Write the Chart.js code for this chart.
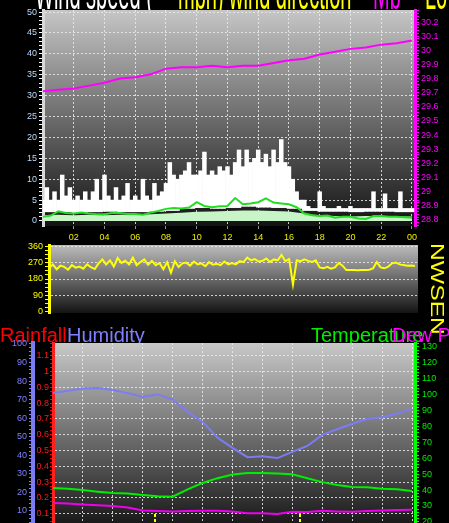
<!DOCTYPE html>
<html>
<head>
<meta charset="utf-8">
<script src="https://cdn.jsdelivr.net/npm/chart.js@4.4.0/dist/chart.umd.min.js"></script>
<style>
  html, body { margin: 0; padding: 0; background: #000; overflow: hidden; }
  body { width: 449px; height: 523px; position: relative; }
  canvas { position: absolute; left: 0; }
  #c1 { top: 0; }
  #c2 { top: 235px; }
  #c3 { top: 320px; }
</style>
</head>
<body>
<canvas id="c1" width="449" height="245"></canvas>
<canvas id="c2" width="449" height="100"></canvas>
<canvas id="c3" width="449" height="215"></canvas>
<script>
// ─── DATA ────────────────────────────────────────────────────
const hourLabels = ['02','04','06','08','10','12','14','16','18','20','22','00'];
const hourTicks = [2,4,6,8,10,12,14,16,18,20,22,24];

// wind gust (mph), 15 minute samples from 00:00
const windGust = [
  5,8,5,7, 5,11,6,8, 5,6,5,7, 5,7,10,5, 11,6,5,8, 5,6,9,5,
  6,5,10,6, 5,9,6,7, 9,14,11,10, 11,12,14,11, 11,12,16.5,11, 12,11,13,12,
  13,11,14,17, 13,17,14,15, 17,14,16,13, 17,14,19.5,14, 13,10,7,5, 5,3.5,3,3,
  7,3.5,3,3, 3,3.5,3,3, 3.5,3,3,3, 3,3,7,3, 3,6.5,3,3, 3,7,3,3, 3
];
// hourly lull under the gust band
const windLull = [2.2,2.2,2.0,2.2,2.3,2.2,2.2,2.3,2.5,3.0,3.2,3.0,3.2,3.5,3.3,3.2,3.0,2.5,2.3,2.3,2.2,2.3,2.3,2.2,2.2];
// hourly wind speed (light green)
const windSpeed = [1.4,1.5,1.4,1.5,1.4,1.5,1.5,1.6,1.8,2.0,2.2,2.3,2.4,2.5,2.5,2.4,2.3,1.8,1.3,1.2,1.1,1.2,1.2,1.1,1.1];
// half-hourly average wind (green line)
const windAvg = [
  1.0,1.3, 2.3,1.9, 1.8,2.0, 1.8,1.6, 1.6,1.9, 1.9,1.7, 1.7,1.5, 2.0,2.4,
  2.9,3.1, 3.0,3.2, 4.5,3.6, 3.3,3.5, 3.6,5.5, 4.0,4.2, 4.5,5.4, 4.4,4.2,
  4.0,3.3, 1.8,1.4, 1.2,1.3, 0.8,1.0, 1.0,0.6, 0.5,1.2, 1.2,1.0, 1.0,0.9, 0.8
];
// hourly barometer (inHg)
const pressure = [29.71,29.72,29.73,29.75,29.77,29.80,29.81,29.83,29.87,29.88,29.88,29.89,29.88,
  29.89,29.89,29.91,29.93,29.94,29.97,29.99,30.01,30.02,30.04,30.05,30.07];

// wind direction (deg), 15 minute samples
const windDir = [
  240,262,235,255, 248,232,258,244, 250,238,262,246, 236,268,290,262,
  285,250,298,270, 282,262,300,258, 275,290,260,282, 258,270,235,275,
  215,280,248,268, 272,255,278,262, 268,252,275,260, 265,258,278,262,
  270,262,280,275, 300,285,292,278, 282,295,276,290, 285,316,280,292,
  150,285,280,290, 282,276,285,245, 240,248,238,245, 270,255,230,230,
  230,229,230,230, 232,240,275,245, 240,250,268,272, 262,258,255,256, 253
];
const compassText = 'NWSEN';

// hourly humidity (%), temperature and dew point (F)
const humidity = [73.6,74.8,76,76.3,75.2,73.5,71.6,72.8,70,63.4,58,49.5,44,39,39.5,38.5,41.8,45,51,54,57,59.5,60.5,62.5,65];
const temperature = [41.3,40.8,40,39,38.2,37.8,36.9,36.2,35.8,40.5,44.5,47.5,49.8,50.8,50.8,50.5,50,47.5,45,43.2,42,41.8,40.8,40.5,39.4];
const dewPoint = [31.8,31.5,31,30.5,30,29,27.2,26.8,26.6,26.8,27,27,26.6,25.4,25.4,25,26.4,26.2,27,26.6,26.4,26.8,27.2,27.4,27.7];
const sunMarks = [6.8, 16.5];

// ─── HELPERS ─────────────────────────────────────────────────
const pts = (arr, step) => arr.map((v, i) => ({ x: i * step, y: v }));
const range = (a, b, s) => { const r = []; for (let k = a; k <= b; k += s) r.push(k); return r; };
const DOT = 'rgba(235,235,235,0.85)';
const NONE = 'rgba(0,0,0,0)';

Chart.defaults.font.family = "'Liberation Sans', Arial, sans-serif";
Chart.defaults.animation = false;

// titles + gradient plot background
const plotBg = {
  id: 'plotBg',
  beforeDraw(chart, args, opts) {
    const { ctx, chartArea: a } = chart;
    (opts.texts || []).forEach(t => {
      ctx.save();
      ctx.translate(t.x, t.y);
      ctx.scale(1, t.stretch || 1);
      ctx.font = t.font;
      ctx.fillStyle = t.color;
      ctx.fillText(t.text, 0, 0);
      ctx.restore();
    });
    const g = ctx.createLinearGradient(0, a.top, 0, a.bottom);
    g.addColorStop(0, opts.top);
    g.addColorStop(1, opts.bottom);
    ctx.fillStyle = g;
    ctx.fillRect(a.left, a.top, a.right - a.left, a.bottom - a.top);
  }
};

const compass = {
  id: 'compass',
  afterDraw(chart, args, opts) {
    if (!opts.text) return;
    const { ctx } = chart;
    ctx.save();
    ctx.translate(opts.x, opts.y);
    ctx.rotate(Math.PI / 2);
    ctx.scale(1.3, 1);
    ctx.font = opts.font;
    ctx.fillStyle = opts.color;
    ctx.textBaseline = 'middle';
    ctx.fillText(opts.text, 0, 0);
    ctx.restore();
  }
};

const sunTicks = {
  id: 'sunTicks',
  afterDatasetsDraw(chart, args, opts) {
    if (!opts.hours) return;
    const { ctx, chartArea: a, scales } = chart;
    ctx.save();
    ctx.strokeStyle = '#ffff00';
    ctx.lineWidth = 2;
    ctx.setLineDash([3, 2]);
    opts.hours.forEach(h => {
      const x = Math.round(scales.x.getPixelForValue(h));
      ctx.beginPath();
      ctx.moveTo(x, a.bottom - 9);
      ctx.lineTo(x, a.bottom);
      ctx.stroke();
    });
    ctx.restore();
  }
};

const line = (data, color, width, extra = {}) => ({
  data, borderColor: color, backgroundColor: color, borderWidth: width,
  pointRadius: 0, tension: 0, fill: false, ...extra
});

const TITLE = '20px "Liberation Sans"';

// ─── WIND SPEED + BAROMETER ──────────────────────────────────
new Chart(document.getElementById('c1'), {
  type: 'line',
  data: {
    datasets: [
      line(pts(pressure, 1), '#ff00ff', 2, { yAxisID: 'yP', order: 0 }),
      line(pts(windAvg, 0.5), '#22dd22', 2, { order: 1 }),
      line(pts(windSpeed, 1), '#c8f5c8', 0, { fill: 'origin', backgroundColor: '#c8f5c8', order: 2 }),
      {
        type: 'bar', order: 3,
        data: windGust.map((v, i) => ({ x: i * 0.25, y: [windLull[Math.floor(i / 4)], v] })),
        backgroundColor: '#ffffff', borderWidth: 0,
        barPercentage: 1, categoryPercentage: 1, grouped: false
      }
    ]
  },
  options: {
    responsive: false,
    events: [],
    layout: { padding: { top: 10, left: 0, right: 0, bottom: 0 } },
    plugins: {
      legend: { display: false }, tooltip: { enabled: false },
      plotBg: {
        top: '#c6c6c6', bottom: '#121212',
        texts: [
          { text: 'Wind speed (', x: 35, y: 9, stretch: 2.3, font: TITLE, color: '#ffffff' },
          { text: 'mph) wind direction', x: 178, y: 9, stretch: 2.3, font: TITLE, color: '#ffff00' },
          { text: 'Mb', x: 373, y: 9, stretch: 2.3, font: TITLE, color: '#ff00ff' },
          { text: 'Lo', x: 425, y: 9, stretch: 2.3, font: TITLE, color: '#ffff00' }
        ]
      }
    },
    scales: {
      x: {
        type: 'linear', min: 0, max: 24.2, offset: false,
        afterBuildTicks: s => { s.ticks = hourTicks.map(v => ({ value: v })); },
        afterFit: s => { s.height = 19; },
        ticks: { color: '#eeee00', font: { size: 9 }, padding: 3, maxRotation: 0, autoSkip: false,
                 callback: (v, i) => hourLabels[i] },
        grid: { color: DOT, tickColor: '#909090', tickLength: 3, offset: false },
        border: { display: false, dash: [2, 2] }
      },
      y: {
        position: 'left', min: -1.2, max: 50.5,
        afterBuildTicks: s => { s.ticks = range(0, 50, 1).map(v => ({ value: v })); },
        afterFit: s => { s.width = 43; },
        ticks: { color: '#bcdcff', font: { size: 9 }, padding: 2, autoSkip: false,
                 callback: v => (v % 5 === 0 ? String(v) : '') },
        grid: { color: c => (c.tick && c.tick.value % 5 === 0 && c.tick.value > 0 ? DOT : NONE),
                tickColor: '#ffffff', tickLength: 4 },
        border: { color: '#d8d8d8', width: 3, dash: [2, 2] }
      },
      yP: {
        position: 'right', min: 28.757, max: 30.285,
        afterBuildTicks: s => { s.ticks = range(2876, 3028, 2).map(k => ({ value: k / 100 })); },
        afterFit: s => { s.width = 34; },
        ticks: { color: '#ff00ff', font: { size: 9 }, padding: 2, autoSkip: false,
                 callback: v => { const k = Math.round(v * 100); return k % 10 === 0 ? String(k / 100) : ''; } },
        grid: { drawOnChartArea: false, tickColor: '#ff00ff', tickLength: 4 },
        border: { color: '#ff00ff', width: 3 }
      }
    }
  },
  plugins: [plotBg]
});

// ─── WIND DIRECTION ──────────────────────────────────────────
new Chart(document.getElementById('c2'), {
  type: 'line',
  data: { datasets: [ line(pts(windDir, 0.25), '#ffff00', 2) ] },
  options: {
    responsive: false,
    events: [],
    layout: { padding: { top: 10, left: 0, right: 31, bottom: 22 } },
    plugins: {
      legend: { display: false }, tooltip: { enabled: false },
      plotBg: { top: '#bdbdbd', bottom: '#141414' },
      compass: { text: compassText, x: 436, y: 8, font: '19px "Liberation Sans"', color: '#ffff00' }
    },
    scales: {
      x: { type: 'linear', min: 0, max: 24.2, display: false },
      y: {
        min: -11, max: 371,
        afterBuildTicks: s => { s.ticks = range(0, 360, 22.5).map(v => ({ value: v })); },
        afterFit: s => { s.width = 49; },
        ticks: { color: '#ffff00', font: { size: 9 }, padding: 2, autoSkip: false,
                 callback: v => (v % 90 === 0 ? String(v) : '') },
        grid: { color: c => (c.tick && c.tick.value % 90 === 0 && c.tick.value > 0 ? DOT : NONE),
                tickColor: '#ffff00', tickLength: 4 },
        border: { color: '#ffff00', width: 3, dash: [2, 2] }
      }
    }
  },
  plugins: [plotBg, compass]
});

// ─── HUMIDITY / TEMPERATURE / DEW POINT ──────────────────────
new Chart(document.getElementById('c3'), {
  type: 'line',
  data: {
    datasets: [
      line(pts(humidity, 1), '#7c7cf2', 2, { yAxisID: 'yH' }),
      line(pts(temperature, 1), '#00ee00', 2, { yAxisID: 'yT' }),
      line(pts(dewPoint, 1), '#ee00ee', 2, { yAxisID: 'yT' })
    ]
  },
  options: {
    responsive: false,
    events: [],
    layout: { padding: { top: 23, left: 0, right: 0, bottom: 12 } },
    plugins: {
      legend: { display: false }, tooltip: { enabled: false },
      plotBg: {
        top: '#c8c8c8', bottom: '#1a1a1a',
        texts: [
          { text: 'Rainfall', x: 0, y: 22, font: TITLE, color: '#ff0000' },
          { text: 'Humidity', x: 67, y: 22, font: TITLE, color: '#8080ff' },
          { text: 'Temperature', x: 311, y: 22, font: TITLE, color: '#00ee00' },
          { text: 'Dew Point', x: 392, y: 22, font: TITLE, color: '#ff00ff' }
        ]
      },
      sunTicks: { hours: sunMarks }
    },
    scales: {
      x: {
        type: 'linear', min: 0, max: 24.2,
        afterBuildTicks: s => { s.ticks = hourTicks.map(v => ({ value: v })); },
        afterFit: s => { s.height = 0; },
        ticks: { display: false },
        grid: { color: DOT, drawTicks: false },
        border: { display: false, dash: [2, 2] }
      },
      yR: {
        position: 'left', weight: 0, min: 0.041, max: 1.18,
        afterBuildTicks: s => { s.ticks = range(2, 47, 1).map(k => ({ value: k / 40 })); },
        afterFit: s => { s.width = 20; },
        ticks: { color: '#ff1818', font: { size: 9 }, padding: 1, autoSkip: false,
                 callback: v => { const k = Math.round(v * 40); return k % 4 === 0 ? String(k / 40) : ''; } },
        grid: { color: c => (c.tick && Math.round(c.tick.value * 40) % 4 === 0 ? DOT : NONE),
                tickColor: '#ff0000', tickLength: 3 },
        border: { color: '#ff2020', width: 3, dash: [2, 2] }
      },
      yH: {
        position: 'left', weight: 1, min: 3.5, max: 100.5,
        afterBuildTicks: s => { s.ticks = range(4, 100, 2).map(v => ({ value: v })); },
        afterFit: s => { s.width = 33; },
        ticks: { color: '#8080ff', font: { size: 9 }, padding: 2, autoSkip: false,
                 callback: v => (v % 10 === 0 ? String(v) : '') },
        grid: { drawOnChartArea: false, tickColor: '#8080ff', tickLength: 4 },
        border: { color: '#7c7cf2', width: 4 }
      },
      yT: {
        position: 'right', min: 19.3, max: 132.5,
        afterBuildTicks: s => { s.ticks = range(20, 132, 2).map(v => ({ value: v })); },
        afterFit: s => { s.width = 34; },
        ticks: { color: '#00ee00', font: { size: 9 }, padding: 3, autoSkip: false,
                 callback: v => (v % 10 === 0 ? String(v) : '') },
        grid: { drawOnChartArea: false, tickColor: '#00ff00', tickLength: 4 },
        border: { color: '#00ff00', width: 3 }
      }
    }
  },
  plugins: [plotBg, sunTicks]
});
</script>
</body>
</html>
